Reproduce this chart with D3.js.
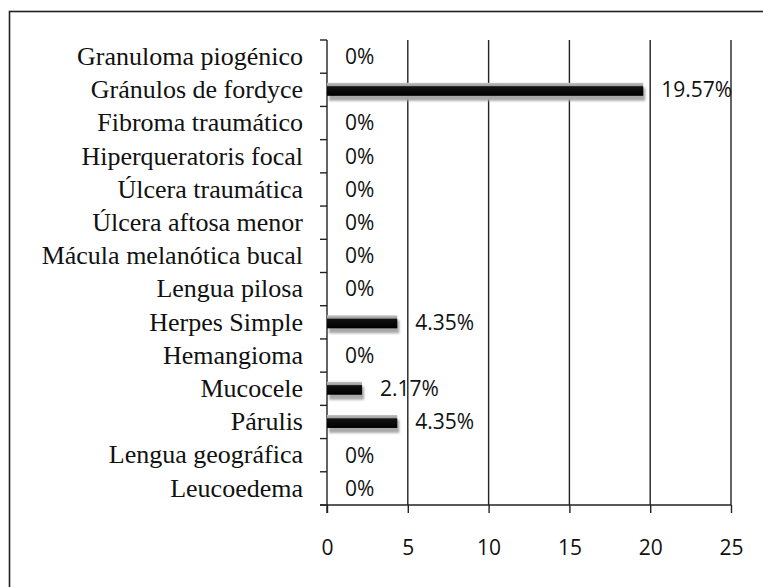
<!DOCTYPE html>
<html>
<head>
<meta charset="utf-8">
<script src="https://cdn.jsdelivr.net/npm/d3@7"></script>
</head>
<body style="margin:0">
<svg width="763" height="587"></svg>
<script>
// categories top to bottom, values in percent
var categories = [
    "Granuloma piogénico", "Gránulos de fordyce", "Fibroma traumático",
    "Hiperqueratoris focal", "Úlcera traumática", "Úlcera aftosa menor",
    "Mácula melanótica bucal", "Lengua pilosa", "Herpes Simple",
    "Hemangioma", "Mucocele", "Párulis", "Lengua geográfica", "Leucoedema"
];
var values = [0, 19.57, 0, 0, 0, 0, 0, 0, 4.35, 0, 2.17, 4.35, 0, 0];
var valueLabels = ["0%", "19.57%", "0%", "0%", "0%", "0%", "0%", "0%", "4.35%", "0%", "2.17%", "4.35%", "0%", "0%"];
var xTicks = [0, 5, 10, 15, 20, 25];

var svg = d3.select('svg');
var serif = '"Liberation Serif"';
var sans = '"Open Sans"';

var x = d3.scaleLinear().domain([0, 25]).range([327, 731]);
var y = d3.scaleBand().domain(categories).range([40, 505]);

// outer frame (runs off the right and bottom edges)
svg.append('rect')
    .attr('x', 9.5).attr('y', 11.5)
    .attr('width', 800).attr('height', 700)
    .attr('fill', 'none')
    .attr('stroke', '#222')
    .attr('stroke-width', 1.6);

var defs = svg.append('defs');
var grad = defs.append('linearGradient')
    .attr('id', 'barFill')
    .attr('x1', 0).attr('y1', 0).attr('x2', 0).attr('y2', 1);
grad.append('stop').attr('offset', '0%').attr('stop-color', '#c4c4c4');
grad.append('stop').attr('offset', '22%').attr('stop-color', '#a0a0a0');
grad.append('stop').attr('offset', '30%').attr('stop-color', '#111');
grad.append('stop').attr('offset', '100%').attr('stop-color', '#000');

defs.append('filter').attr('id', 'blur')
    .append('feGaussianBlur').attr('stdDeviation', 0.8);

// vertical grid lines
svg.append('g')
    .selectAll('line')
    .data(xTicks.slice(1))
    .enter()
    .append('line')
    .attr('x1', d => x(d)).attr('x2', d => x(d))
    .attr('y1', 40).attr('y2', 505)
    .attr('stroke', '#222')
    .attr('stroke-width', 1.4);

// bottom axis
var xAxis = svg.append('g')
    .attr('transform', 'translate(0,505)')
    .call(d3.axisBottom(x).tickValues(xTicks).tickSize(8).tickPadding(27).tickFormat(d3.format('d')));
xAxis.select('.domain').remove();
xAxis.append('line')
    .attr('x1', 320).attr('x2', x(25))
    .attr('stroke', '#222').attr('stroke-width', 1.4);
xAxis.selectAll('.tick line').attr('stroke', '#222').attr('stroke-width', 1.4);
xAxis.selectAll('.tick text')
    .style('font-family', sans)
    .style('font-size', '21px')
    .attr('fill', '#111');

// left axis: line plus ticks between categories
var yAxis = svg.append('g')
    .style('font-family', serif);
yAxis.append('line')
    .attr('x1', x(0)).attr('x2', x(0))
    .attr('y1', 40).attr('y2', 513)
    .attr('stroke', '#222').attr('stroke-width', 1.4);
yAxis.selectAll('line.tk')
    .data(d3.range(categories.length + 1))
    .enter()
    .append('line')
    .attr('class', 'tk')
    .attr('x1', x(0) - 7).attr('x2', x(0))
    .attr('y1', i => 40 + i * y.step())
    .attr('y2', i => 40 + i * y.step())
    .attr('stroke', '#222').attr('stroke-width', 1.4);

yAxis.selectAll('text')
    .data(categories)
    .enter()
    .append('text')
    .attr('x', 303)
    .attr('y', d => y(d) + y.bandwidth() / 2)
    .attr('dy', '0.32em')
    .attr('text-anchor', 'end')
    .attr('font-family', 'Liberation Serif')
    .style('font-family', serif)
    .style('font-size', '26px')
    .attr('fill', '#111')
    .text(d => d);

// bars: soft shadow, then dark body with light top edge
var bars = svg.append('g');
var barData = categories.map((c, i) => ({ cat: c, v: values[i], label: valueLabels[i] }));

bars.selectAll('rect.shadow')
    .data(barData.filter(d => d.v > 0))
    .enter()
    .append('rect')
    .attr('class', 'shadow')
    .attr('x', x(0) + 2)
    .attr('y', d => y(d.cat) + y.bandwidth() / 2 - 2)
    .attr('width', d => x(d.v) - x(0))
    .attr('height', 13)
    .attr('fill', '#a8a8a8')
    .attr('filter', 'url(#blur)');

bars.selectAll('rect.bar')
    .data(barData.filter(d => d.v > 0))
    .enter()
    .append('rect')
    .attr('class', 'bar')
    .attr('x', x(0))
    .attr('y', d => y(d.cat) + y.bandwidth() / 2 - 7)
    .attr('width', d => x(d.v) - x(0))
    .attr('height', 13)
    .attr('fill', 'url(#barFill)');

bars.selectAll('text')
    .data(barData)
    .enter()
    .append('text')
    .attr('x', d => x(d.v) + 18)
    .attr('y', d => y(d.cat) + y.bandwidth() / 2)
    .attr('dy', '0.35em')
    .style('font-family', sans)
    .style('font-size', '21px')
    .attr('fill', '#111')
    .text(d => d.label);
</script>
</body>
</html>
